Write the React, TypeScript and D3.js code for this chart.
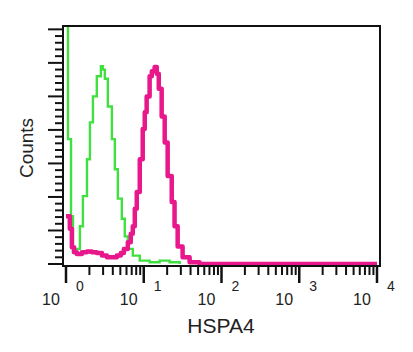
import React, { useRef, useEffect } from 'react';
import * as d3 from 'd3';

// isotype control (green) - fluorescence intensity vs counts
const controlIntensity = [1, 1.06, 1.16, 1.23, 1.3, 1.38, 1.51, 1.65, 1.86, 2.03, 2.22, 2.49, 2.81, 2.98, 3.16, 3.45, 3.89, 4.25, 4.64, 5.22, 5.7, 6.24, 7.23, 8.89, 11.9, 16.0, 21.5, 29.0];
const controlCounts = [400, 149, 57, 14, 18, 18, 45, 81, 125, 169, 200, 224, 236, 232, 221, 188, 149, 113, 78, 54, 33, 18, 10, 4, 2, 4, 2, 0];

// HSPA4 stained (magenta)
const hspaIntensity = [1, 1.12, 1.19, 1.27, 1.38, 1.6, 1.86, 2.15, 2.49, 2.9, 3.36, 3.89, 4.51, 5.07, 5.55, 6.24, 6.81, 7.23, 7.67, 8.13, 8.89, 9.7, 10.3, 10.9, 11.9, 12.7, 13.8, 14.7, 15.6, 17.0, 18.6, 20.3, 22.9, 24.9, 27.3, 31.6, 38.9, 52.2, 10000];
const hspaCounts = [57, 42, 20, 14, 12, 14, 15, 14, 13, 10, 8, 8, 10, 13, 18, 26, 36, 45, 66, 86, 125, 161, 181, 200, 224, 230, 235, 227, 209, 176, 145, 105, 74, 45, 21, 8, 2, 0, 0];

const decades = [1, 10, 100, 1000, 10000];
const decadeExponents = ['0', '1', '2', '3', '4'];

function App() {
  const svgRef = useRef<SVGSVGElement>(null);

  useEffect(() => {
    const width = 413;
    const height = 352;
    const frameLeft = 63;
    const frameRight = 380;
    const frameTop = 26;
    const frameBottom = 266;

    const svg = d3.select(svgRef.current);
    svg.selectAll('*').remove();
    svg.attr('width', width).attr('height', height)
      .attr('viewBox', [0, 0, width, height])
      .style('font-family', '"Liberation Sans", Arial, sans-serif');

    const x = d3.scaleLog().domain([1, 10000]).range([66, 377]);
    const y = d3.scaleLinear().domain([0, 284]).range([264, 26]);

    svg.append('rect').attr('width', width).attr('height', height).attr('fill', '#fff');

    svg.append('clipPath').attr('id', 'plotClip')
      .append('rect')
      .attr('x', frameLeft).attr('y', frameTop)
      .attr('width', frameRight - frameLeft).attr('height', frameBottom - frameTop);

    const line = d3.line<[number, number]>()
      .x(d => x(d[0]))
      .y(d => y(d[1]))
      .curve(d3.curveStepAfter);

    const plot = svg.append('g').attr('clip-path', 'url(#plotClip)');

    plot.append('path')
      .datum(controlIntensity.map((v, i) => [v, controlCounts[i]] as [number, number]))
      .attr('fill', 'none')
      .attr('stroke', '#40e040')
      .attr('stroke-width', 2.4)
      .attr('d', line);

    plot.append('path')
      .datum(hspaIntensity.map((v, i) => [v, hspaCounts[i]] as [number, number]))
      .attr('fill', 'none')
      .attr('stroke', '#e8178b')
      .attr('stroke-width', 4.5)
      .attr('stroke-linejoin', 'round')
      .attr('d', line);

    // frame
    svg.append('rect')
      .attr('x', frameLeft).attr('y', frameTop)
      .attr('width', frameRight - frameLeft).attr('height', frameBottom - frameTop)
      .attr('fill', 'none').attr('stroke', '#111').attr('stroke-width', 2);

    // y ticks, no labels
    const yTicks = d3.range(0, 281, 8);
    svg.append('g')
      .selectAll('line')
      .data(yTicks)
      .join('line')
      .attr('x1', d => (d % 40 === 0 ? 48 : 55))
      .attr('x2', frameLeft)
      .attr('y1', d => y(d))
      .attr('y2', d => y(d))
      .attr('stroke', '#111')
      .attr('stroke-width', 2);

    // x ticks, log decades with minor ticks
    const minor: number[] = [];
    decades.slice(0, -1).forEach(d => {
      for (let k = 2; k <= 9; k++) minor.push(d * k);
    });
    svg.append('g')
      .selectAll('line')
      .data(minor)
      .join('line')
      .attr('x1', d => x(d)).attr('x2', d => x(d))
      .attr('y1', frameBottom).attr('y2', 275)
      .attr('stroke', '#111').attr('stroke-width', 2);

    svg.append('g')
      .selectAll('line')
      .data(decades)
      .join('line')
      .attr('x1', d => x(d)).attr('x2', d => x(d))
      .attr('y1', frameBottom).attr('y2', 283)
      .attr('stroke', '#111').attr('stroke-width', 2.5);

    const labels = svg.append('g').attr('fill', '#222');
    labels.selectAll('text.base')
      .data(decades)
      .join('text')
      .attr('class', 'base')
      .attr('x', d => x(d) - 15)
      .attr('y', 305)
      .attr('text-anchor', 'middle')
      .attr('font-size', 16)
      .text('10');

    labels.selectAll('text.exp')
      .data(decades)
      .join('text')
      .attr('class', 'exp')
      .attr('x', d => x(d) + 14)
      .attr('y', 291)
      .attr('text-anchor', 'middle')
      .attr('font-size', 14)
      .text((d, i) => decadeExponents[i]);

    svg.append('text')
      .attr('x', 221)
      .attr('y', 333)
      .attr('text-anchor', 'middle')
      .attr('font-size', 21)
      .attr('fill', '#222')
      .text('HSPA4');

    svg.append('text')
      .attr('transform', 'translate(33,148) rotate(-90)')
      .attr('text-anchor', 'middle')
      .attr('font-size', 19)
      .attr('fill', '#222')
      .text('Counts');
  }, []);

  return (
    <div style={{ position: 'absolute', left: 0, top: 0 }}>
      <svg ref={svgRef} style={{ display: 'block' }}></svg>
    </div>
  );
}

export default App;
